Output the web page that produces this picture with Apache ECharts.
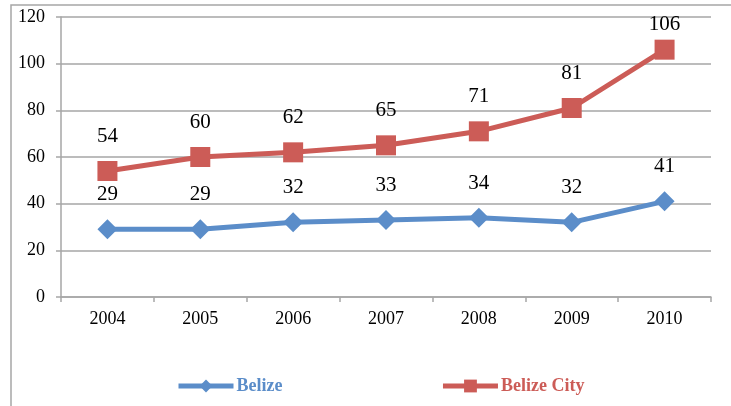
<!DOCTYPE html>
<html>
<head>
<meta charset="utf-8">
<script src="https://cdn.jsdelivr.net/npm/echarts@6/dist/echarts.min.js"></script>
<style>
  html, body { margin: 0; padding: 0; background: #fff; }
  #chart { width: 731px; height: 406px; }
</style>
</head>
<body>
<div id="chart"></div>
<script>
// data
var years = ["2004", "2005", "2006", "2007", "2008", "2009", "2010"];
var belize = [29, 29, 32, 33, 34, 32, 41];
var belizeCity = [54, 60, 62, 65, 71, 81, 106];

var blue = "#5B8DC9";
var red = "#CC5C57";
var grey = "#A6A6A6";
var serif = "Liberation Serif";

var chart = echarts.init(document.getElementById("chart"));

// last Belize City label sits closer to its point (top of the plot)
var cityData = belizeCity.map(function (v, i) {
  if (i === belizeCity.length - 1) return { value: v, label: { distance: 5 } };
  return v;
});

chart.setOption({
  backgroundColor: "#FFFFFF",
  animation: false,
  textStyle: { fontFamily: serif },
  // outer frame of the chart
  graphic: [{
    type: "rect",
    shape: { x: 11, y: 5, width: 740, height: 420 },
    style: { fill: "none", stroke: grey, lineWidth: 1.5 },
    silent: true
  }],
  grid: { left: 61, right: 20, top: 17, bottom: 109, containLabel: false },
  legend: {
    left: 171,
    top: 372,
    itemWidth: 55,
    itemHeight: 16,
    itemGap: 158,
    lineStyle: { width: 5 },
    data: [
      { name: "Belize", textStyle: { color: blue } },
      { name: "Belize City", textStyle: { color: red } }
    ],
    textStyle: { fontFamily: serif, fontSize: 18, fontWeight: "bold", padding: [0, 0, 0, -2] }
  },
  xAxis: {
    type: "category",
    data: years,
    boundaryGap: true,
    axisLine: { lineStyle: { color: grey, width: 1.5 } },
    axisTick: { show: true, length: 5, lineStyle: { color: grey, width: 1.5 } },
    axisLabel: { color: "#000", fontSize: 18, fontFamily: serif, margin: 13 }
  },
  yAxis: {
    type: "value",
    min: 0,
    max: 120,
    interval: 20,
    axisLine: { show: true, lineStyle: { color: grey, width: 1.5 } },
    axisTick: { show: true, length: 5, lineStyle: { color: grey, width: 1.5 } },
    splitLine: { lineStyle: { color: grey, width: 1.5 } },
    axisLabel: { color: "#000", fontSize: 18, fontFamily: serif, margin: 16 }
  },
  series: [
    {
      name: "Belize",
      type: "line",
      data: belize,
      symbol: "diamond",
      symbolSize: 20,
      lineStyle: { color: blue, width: 5 },
      itemStyle: { color: blue },
      label: { show: true, position: "top", distance: 14, color: "#000", fontSize: 21, fontFamily: serif }
    },
    {
      name: "Belize City",
      type: "line",
      data: cityData,
      symbol: "rect",
      symbolSize: 20,
      lineStyle: { color: red, width: 5 },
      itemStyle: { color: red },
      label: { show: true, position: "top", distance: 14, color: "#000", fontSize: 21, fontFamily: serif }
    }
  ]
});
</script>
</body>
</html>
